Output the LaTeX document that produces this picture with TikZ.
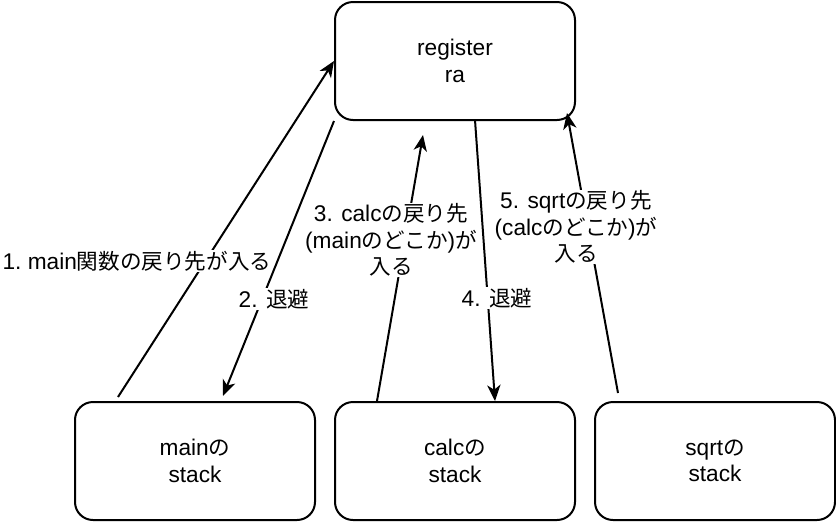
\documentclass[tikz,border=0pt]{standalone}
\usepackage{fontspec}
\setmainfont[Scale=1.05]{Liberation Sans}
\newfontfamily\jp{Noto Sans CJK JP}
\usetikzlibrary{arrows.meta}
\newcommand\J[1]{{\jp #1}}
\begin{document}
\begin{tikzpicture}[x=0.75pt,y=-0.75pt,
  font=\fontsize{16.2}{19.8}\selectfont,
  box/.style={draw,line width=1.5pt,rounded corners=13.5pt,minimum width=180pt,minimum height=88.5pt,align=center,fill=white},
  arr/.style={draw,line width=1.5pt,-{Stealth[length=12pt,width=10pt,inset=3.5pt]}},
  lbl/.style={fill=white,inner sep=0.5pt,align=center}]
\useasboundingbox (0,0) rectangle (836,522);
\node[box] (reg) at (455,61) {register\\ra};
\node[box] (mainS) at (195,461) {main\J{の}\\stack};
\node[box] (calcS) at (455,461) {calc\J{の}\\stack};
\node[box] (sqrtS) at (715,461) {sqrt\J{の}\\stack};
\coordinate (a1s) at (118,397);
\coordinate (a2e) at (223,396);
\coordinate (a3s) at (377,401);
\coordinate (a3e) at (423,135);
\coordinate (a4s) at (475,120);
\coordinate (a4e) at (495,401);
\coordinate (a5s) at (618,393);
\coordinate (a5e) at (567,113);
\draw[arr] (a1s) -- (reg.west);
\draw[arr] (reg.south west) -- (a2e);
\draw[arr] (a3s) -- (a3e);
\draw[arr] (a4s) -- (a4e);
\draw[arr] (a5s) -- (a5e);
\node[lbl] (l1) at (137,261) {1.~main\J{関数の戻り先が入る}};
\node[lbl] (l2) at (274,299) {2. \J{退避}};
\node[lbl] (l3) at (391,240) {3. calc\J{の戻り先}\\(main\J{のどこか})\J{が}\\\J{入る}};
\node[lbl] (l4) at (497,298) {4. \J{退避}};
\node[lbl] (l5) at (576,227) {5. sqrt\J{の戻り先}\\(calc\J{のどこか})\J{が}\\\J{入る}};
\end{tikzpicture}
\end{document}
